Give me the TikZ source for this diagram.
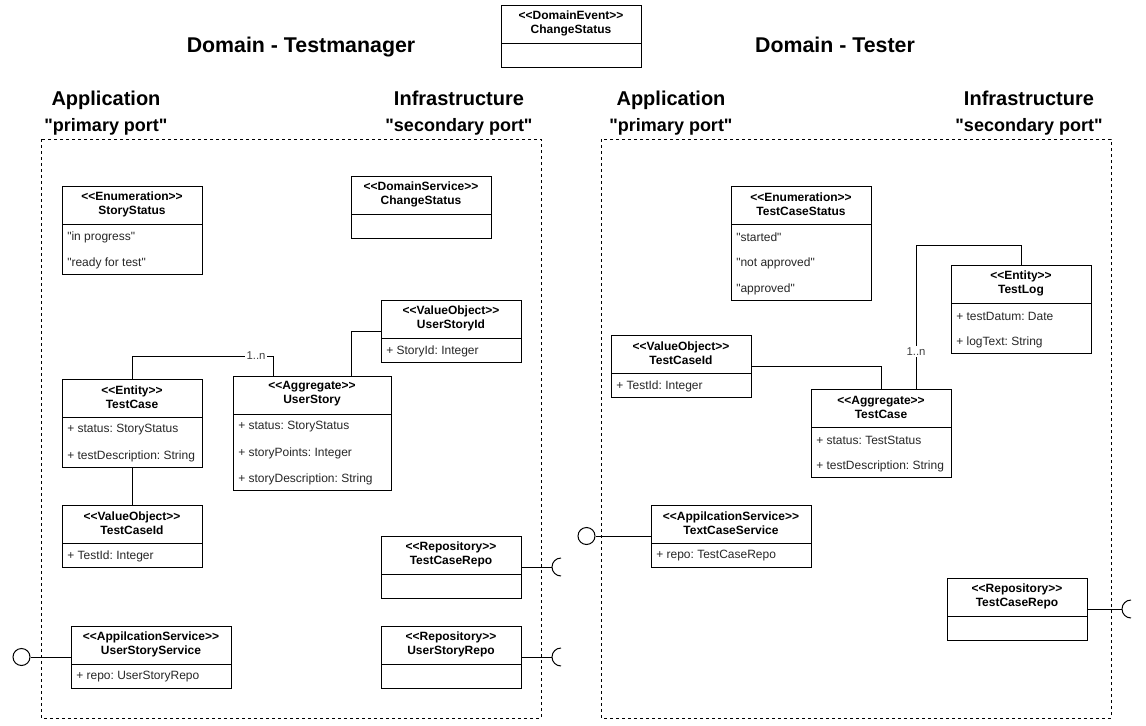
\documentclass[tikz,border=0pt]{standalone}
\usepackage{fontspec}
\setmainfont{Liberation Sans}
\usetikzlibrary{calc}

\tikzset{
	umlline/.style={draw=black, line width=0.75pt},
	umlbox/.style={umlline, rectangle, anchor=north west, inner sep=0pt, outer sep=0pt},
	umlhead/.style={align=center, inner sep=0pt, font=\fontsize{9}{10.5}\selectfont\bfseries},
	umlitem/.style={anchor=west, inner sep=0pt, text=black!85, font=\fontsize{9}{10.5}\selectfont\frenchspacing},
	mult/.style={fill=white, inner sep=1pt, text=black!75, font=\fontsize{8.5}{9}\selectfont},
	domtitle/.style={anchor=base, font=\fontsize{16}{19}\selectfont\bfseries},
	layertitle/.style={anchor=base, font=\fontsize{15}{18}\selectfont\bfseries},
	porttitle/.style={anchor=base, font=\fontsize{13.5}{16}\selectfont\bfseries},
	layerframe/.style={draw=black, line width=0.75pt, dash pattern=on 2.25pt off 2.25pt},
	lolli/.style={circle, draw=black, line width=0.75pt, minimum size=12.75pt, inner sep=0pt}
}

% <<stereotype>> kept as two angle brackets
\newcommand{\stereo}[1]{\textless\kern0pt\textless #1\textgreater\kern0pt\textgreater}
\newcommand{\qt}[1]{\textquotedbl #1\textquotedbl}

% name, x, y, width, number of items, header, items
\newcommand{\umlclass}[7]{%
	\pgfmathsetmacro{\bodyh}{#5==0 ? 24 : 26*#5-2}
	\node[umlbox, minimum width=#4*0.75pt, minimum height=(38+\bodyh)*0.75pt] (#1) at (#2,#3) {};
	\node[umlhead] (#1-head) at ($(#1.north)+(0,18)$) {#6};
	\draw[umlline] ($(#1.north west)+(0,38)$) -- ($(#1.north east)+(0,38)$);
	\foreach \txt [count=\i from 0] in {#7} {
		\node[umlitem] at ($(#1.north west)+(5,51+26*\i)$) {\txt};
	}
}

\begin{document}
\begin{tikzpicture}[x=0.75pt, y=-0.75pt]
	\useasboundingbox (0,0) rectangle (1146,725);
	
	% titles
	\node[domtitle] (tmTitle) at (301,52) {Domain - Testmanager};
	\node[domtitle] (tTitle) at (835,52) {Domain - Tester};
	\foreach \x/\n in {106/tmApp, 671/tApp} {
		\node[layertitle] (\n) at (\x,105) {Application};
		\node[porttitle] (\n-port) at (\x,131) {\qt{primary port}};
	}
	\foreach \x/\n in {459/tmInfra, 1029/tInfra} {
		\node[layertitle] (\n) at (\x,105) {Infrastructure};
		\node[porttitle] (\n-port) at (\x,131) {\qt{secondary port}};
	}
	
	\draw[layerframe] (41,139) rectangle (541,718);
	\draw[layerframe] (601,139) rectangle (1111,718);
	
	\umlclass{evChange}{501}{5}{140}{0}{\stereo{DomainEvent}\\ChangeStatus}{}
	
	% Testmanager
	\umlclass{ssEnum}{62}{186}{140}{2}{\stereo{Enumeration}\\StoryStatus}{\qt{in progress}, \qt{ready for test}}
	\umlclass{csSrv}{351}{176}{140}{0}{\stereo{DomainService}\\ChangeStatus}{}
	\umlclass{usId}{381}{300}{140}{1}{\stereo{ValueObject}\\UserStoryId}{+ StoryId: Integer}
	\umlclass{tmCase}{62}{379}{140}{2}{\stereo{Entity}\\TestCase}{+ status: StoryStatus, + testDescription: String}
	\umlclass{usAgg}{233}{376}{158}{3}{\stereo{Aggregate}\\UserStory}{+ status: StoryStatus, + storyPoints: Integer, + storyDescription: String}
	\umlclass{tmCaseId}{62}{505}{140}{1}{\stereo{ValueObject}\\TestCaseId}{+ TestId: Integer}
	\umlclass{tmCaseRepo}{381}{536}{140}{0}{\stereo{Repository}\\TestCaseRepo}{}
	\umlclass{usRepo}{381}{626}{140}{0}{\stereo{Repository}\\UserStoryRepo}{}
	\umlclass{usSrv}{71}{626}{160}{1}{\stereo{AppilcationService}\\UserStoryService}{+ repo: UserStoryRepo}
	
	% Tester
	\umlclass{tcsEnum}{731}{186}{140}{3}{\stereo{Enumeration}\\TestCaseStatus}{\qt{started}, \qt{not approved}, \qt{approved}}
	\umlclass{tLog}{951}{265}{140}{2}{\stereo{Entity}\\TestLog}{+ testDatum: Date, + logText: String}
	\umlclass{tCaseId}{611}{335}{140}{1}{\stereo{ValueObject}\\TestCaseId}{+ TestId: Integer}
	\umlclass{tCaseAgg}{811}{389}{140}{2}{\stereo{Aggregate}\\TestCase}{+ status: TestStatus, + testDescription: String}
	\umlclass{tcSrv}{651}{505}{160}{1}{\stereo{AppilcationService}\\TextCaseService}{+ repo: TestCaseRepo}
	\umlclass{tCaseRepo}{947}{578}{140}{0}{\stereo{Repository}\\TestCaseRepo}{}
	
	% associations
	\draw[umlline] (tmCase.north) -- ++(0,-23) -| ([xshift=30pt]usAgg.north west) node[mult, pos=0.44] {1..n};
	\draw[umlline] (usId.west) -| ([xshift=88.5pt]usAgg.north west);
	\draw[umlline] (tmCase.south) -- (tmCaseId.north);
	\draw[umlline] (tCaseId.east) -| (tCaseAgg.north);
	\draw[umlline] (tLog.north) -- ++(0,-20) -| ([xshift=78.75pt]tCaseAgg.north west) node[mult, pos=0.87] {1..n};
	
	% provided ports
	\node[lolli] (usPort) at ($(usSrv.west)+(-49.5,0)$) {};
	\node[lolli] (tcPort) at ($(tcSrv.west)+(-64.5,0)$) {};
	\draw[umlline] (usSrv.west) -- (usPort);
	\draw[umlline] (tcSrv.west) -- (tcPort);
	
	% required ports
	\coordinate (sockA) at ($(tmCaseRepo.east)+(31,0)$);
	\coordinate (sockB) at ($(usRepo.east)+(31,0)$);
	\coordinate (sockC) at ($(tCaseRepo.east)+(35,0)$);
	\draw[umlline] (tmCaseRepo.east) -- (sockA);
	\draw[umlline] (usRepo.east) -- (sockB);
	\draw[umlline] (tCaseRepo.east) -- (sockC);
	\foreach \s in {sockA,sockB,sockC} {
		\draw[umlline] ([shift={(9,-9)}]\s) arc[start angle=90, end angle=270, radius=6.75pt];
	}
\end{tikzpicture}
\end{document}
